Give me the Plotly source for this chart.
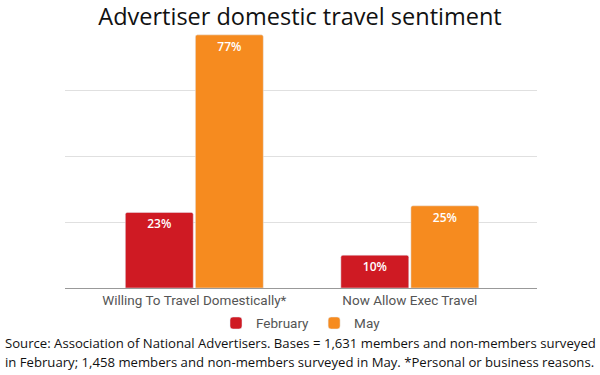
import plotly.graph_objects as go

categories = ["Willing To Travel Domestically*", "Now Allow Exec Travel"]
february = [23, 10]
may = [77, 25]
series_names = ["February", "May"]
source_lines = [
    "Source: Association of National Advertisers. Bases = 1,631 members and non-members surveyed",
    "in February; 1,458 members and non-members surveyed in May. *Personal or business reasons.",
]

fig = go.Figure()
fig.add_trace(go.Bar(
    x=categories, y=february, name=series_names[0],
    marker=dict(color="#cf1a23"),
    text=[f"{v}%" for v in february], textposition="inside", insidetextanchor="end",
    textfont=dict(color="white", size=12, family="Open Sans", weight=600),
))
fig.add_trace(go.Bar(
    x=categories, y=may, name=series_names[1],
    marker=dict(color="#f68b1f"),
    text=[f"{v}%" for v in may], textposition="inside", insidetextanchor="end",
    textfont=dict(color="white", size=12, family="Open Sans", weight=600),
))

fig.update_layout(
    width=600, height=375,
    margin=dict(l=65, r=63, t=25, b=87),
    paper_bgcolor="white", plot_bgcolor="white",
    barmode="group", bargap=0.35, bargroupgap=0.03,
    barcornerradius=2,
    title=dict(text="Advertiser domestic travel sentiment", x=0.5, xanchor="center",
               y=0.955, yanchor="middle",
               font=dict(family="Open Sans", size=23.5, color="#111")),
    xaxis=dict(type="category", range=[-0.6, 1.59], showgrid=False,
               showline=True, linecolor="#999", linewidth=1,
               tickfont=dict(family="Roboto", size=13.5, color="#555"), ticks=""),
    yaxis=dict(range=[0, 80], dtick=20, showticklabels=False, gridcolor="#e0e0e0",
               zeroline=False, showline=False),
    legend=dict(orientation="h", x=0.5, xanchor="center", y=-0.075, yanchor="top",
                font=dict(family="Roboto", size=13.5, color="#555")),
    uniformtext=dict(minsize=12, mode="show"),
    font=dict(family="Open Sans"),
)
for i, (line, yy) in enumerate(zip(source_lines, [-0.209, -0.281])):
    fig.add_annotation(
        text=line, xref="paper", yref="paper", x=-0.131, xanchor="left",
        y=yy, yanchor="middle", showarrow=False, align="left",
        font=dict(family="Open Sans", size=13.15, color="#111"),
    )
fig.write_html("out.html", config={"displayModeBar": False},
               post_script="document.body.style.margin='0';document.body.style.padding='0';document.body.style.overflow='hidden';")
